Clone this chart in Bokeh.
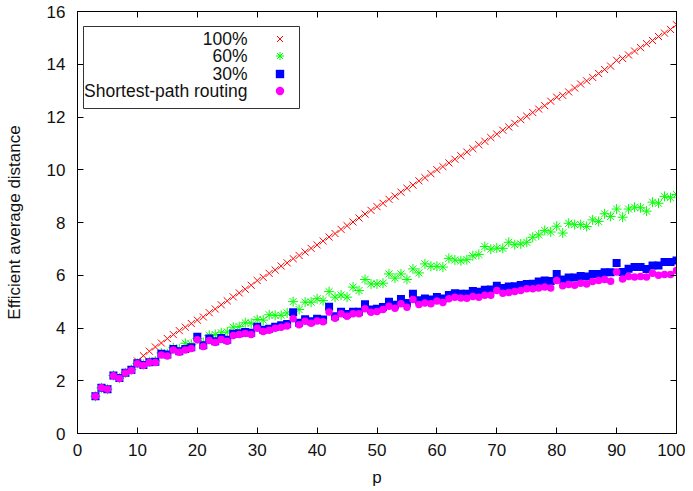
from bokeh.plotting import figure
from bokeh.models import (Range1d, LinearAxis, FixedTicker, CustomJSTickFormatter,
                          Legend, LegendItem, Label, BoxAnnotation, ColumnDataSource)
from bokeh.core.properties import value
from bokeh.embed import file_html
from bokeh.resources import INLINE

# ---------------- data ----------------
p_values = list(range(3, 101))

full_100 = [1.41, 1.73, 1.68, 2.19, 2.09, 2.29, 2.39, 2.75, 2.95, 3.12,
            3.28, 3.43, 3.60, 3.75, 3.90, 4.03, 4.17, 4.30, 4.42, 4.58,
            4.72, 4.88, 5.03, 5.18, 5.33, 5.47, 5.62, 5.80, 5.92, 6.07,
            6.20, 6.35, 6.47, 6.63, 6.75, 6.88, 7.02, 7.15, 7.30, 7.45,
            7.58, 7.74, 7.88, 8.02, 8.17, 8.32, 8.46, 8.60, 8.73, 8.88,
            9.00, 9.15, 9.30, 9.42, 9.58, 9.70, 9.85, 10.00, 10.12, 10.26,
            10.40, 10.53, 10.67, 10.80, 10.95, 11.08, 11.22, 11.35, 11.50, 11.62,
            11.76, 11.90, 12.03, 12.17, 12.30, 12.43, 12.60, 12.75, 12.82, 12.95,
            13.10, 13.25, 13.37, 13.50, 13.65, 13.80, 13.93, 14.15, 14.22, 14.35,
            14.50, 14.63, 14.78, 14.90, 15.05, 15.18, 15.32, 15.50]

pct_60 = [1.41, 1.73, 1.68, 2.20, 2.10, 2.30, 2.42, 2.66, 2.62, 2.72,
          2.75, 3.05, 3.02, 3.25, 3.20, 3.42, 3.38, 3.60, 3.45, 3.72,
          3.75, 3.82, 3.85, 4.03, 4.05, 4.20, 4.18, 4.32, 4.30, 4.50,
          4.48, 4.48, 4.57, 5.00, 4.70, 4.98, 4.98, 5.11, 5.04, 5.38,
          5.17, 5.25, 5.17, 5.55, 5.42, 5.84, 5.67, 5.67, 5.70, 6.05,
          5.89, 6.05, 5.84, 6.24, 6.09, 6.43, 6.34, 6.34, 6.31, 6.64,
          6.58, 6.55, 6.59, 6.74, 6.79, 7.09, 6.99, 7.03, 7.02, 7.25,
          7.16, 7.19, 7.25, 7.44, 7.53, 7.70, 7.64, 7.86, 7.60, 7.97,
          7.92, 7.92, 7.85, 8.10, 8.04, 8.33, 8.23, 8.51, 8.20, 8.51,
          8.58, 8.56, 8.43, 8.77, 8.73, 8.99, 8.94, 9.06]

pct_30 = [1.41, 1.73, 1.68, 2.20, 2.10, 2.30, 2.42, 2.66, 2.60, 2.70,
          2.72, 3.02, 3.00, 3.20, 3.12, 3.20, 3.27, 3.67, 3.35, 3.60,
          3.50, 3.62, 3.55, 3.78, 3.80, 3.85, 3.82, 4.05, 3.93, 3.97,
          4.05, 4.10, 4.15, 4.60, 4.20, 4.33, 4.26, 4.35, 4.32, 4.81,
          4.45, 4.62, 4.53, 4.62, 4.62, 4.90, 4.70, 4.73, 4.80, 5.00,
          4.88, 5.10, 4.95, 5.30, 5.05, 5.12, 5.08, 5.18, 5.12, 5.25,
          5.32, 5.30, 5.30, 5.40, 5.37, 5.45, 5.46, 5.60, 5.52, 5.57,
          5.58, 5.63, 5.67, 5.68, 5.76, 5.80, 5.78, 6.05, 5.84, 5.91,
          5.91, 5.97, 5.95, 6.05, 6.05, 6.11, 6.11, 6.46, 6.12, 6.25,
          6.31, 6.31, 6.24, 6.37, 6.37, 6.50, 6.50, 6.56]

shortest = [1.41, 1.73, 1.68, 2.19, 2.09, 2.29, 2.39, 2.64, 2.58, 2.69,
            2.69, 2.98, 2.94, 3.17, 3.08, 3.17, 3.22, 3.55, 3.30, 3.53,
            3.45, 3.56, 3.50, 3.72, 3.75, 3.79, 3.75, 3.99, 3.87, 3.91,
            3.99, 4.03, 4.08, 4.35, 4.12, 4.26, 4.18, 4.27, 4.24, 4.61,
            4.37, 4.54, 4.45, 4.54, 4.54, 4.73, 4.60, 4.63, 4.70, 4.82,
            4.75, 4.92, 4.79, 5.08, 4.89, 4.95, 4.92, 5.02, 4.97, 5.11,
            5.17, 5.14, 5.13, 5.19, 5.17, 5.24, 5.24, 5.42, 5.32, 5.35,
            5.38, 5.42, 5.49, 5.49, 5.52, 5.55, 5.52, 5.80, 5.60, 5.65,
            5.62, 5.70, 5.67, 5.76, 5.80, 5.84, 5.77, 6.12, 5.86, 5.95,
            5.93, 5.95, 5.93, 6.08, 6.00, 6.03, 6.03, 6.18]

series_labels = ["100%", "60%", "30%", "Shortest-path routing"]
x_ticks = [0, 10, 20, 30, 40, 50, 60, 70, 80, 90, 100]
y_ticks = [0, 2, 4, 6, 8, 10, 12, 14, 16]

# ---------------- figure ----------------
FONT = "Liberation Sans"
FS = "17px"

src = ColumnDataSource(dict(p=p_values, a=full_100, b=pct_60, c=pct_30, d=shortest))

p = figure(frame_width=599, frame_height=422, output_backend="svg", toolbar_location=None,
           x_range=Range1d(0, 100), y_range=Range1d(0, 16),
           min_border_left=77, min_border_right=9, min_border_top=11, min_border_bottom=50,
           background_fill_color="white", border_fill_color="white")
p.xgrid.visible = False
p.ygrid.visible = False
p.outline_line_color = "black"
p.outline_line_width = 1
p.outline_line_alpha = 1

for ax in (p.xaxis[0], p.yaxis[0]):
    ax.major_tick_in = 6
    ax.major_tick_out = 0
    ax.minor_tick_line_color = None
    ax.axis_line_color = "black"
    ax.major_tick_line_color = "black"
    ax.major_label_text_font = FONT
    ax.major_label_text_font_size = FS
    ax.major_label_text_color = "#111111"
    ax.axis_label_text_font = FONT
    ax.axis_label_text_font_size = FS
    ax.axis_label_text_font_style = "normal"
    ax.axis_label_text_color = "#111111"

p.xaxis.ticker = FixedTicker(ticks=x_ticks)
p.yaxis.ticker = FixedTicker(ticks=y_ticks)
p.xaxis.axis_label = "p"
p.yaxis.axis_label = "Efficient average distance"
p.xaxis.major_label_standoff = 10
p.xaxis.axis_label_standoff = 9
p.yaxis.major_label_standoff = 12
p.yaxis.axis_label_standoff = 20

# mirror ticks
top = LinearAxis(ticker=FixedTicker(ticks=x_ticks), formatter=CustomJSTickFormatter(code="return ''"))
right = LinearAxis(ticker=FixedTicker(ticks=y_ticks), formatter=CustomJSTickFormatter(code="return ''"))
for ax in (top, right):
    ax.major_tick_in = 6
    ax.major_tick_out = 0
    ax.minor_tick_line_color = None
    ax.axis_line_color = "black"
    ax.major_label_standoff = 0
    ax.major_label_text_font_size = "1px"
p.add_layout(top, "above")
p.add_layout(right, "right")

# ---------------- data marks ----------------
r1 = p.scatter("p", "a", source=src, marker="x", size=10, line_color="#ff0000", line_width=1)
r2 = p.scatter("p", "b", source=src, marker="asterisk", size=10, line_color="#00ff00", line_width=1)
r3 = p.scatter("p", "c", source=src, marker="square", size=8, fill_color="#0000ff", line_color=None)
r4 = p.scatter("p", "d", source=src, marker="circle", size=7.5, fill_color="#ff00ff", line_color=None)

# ---------------- key (gnuplot style: text right-aligned, symbol at right) ----------------
p.add_layout(BoxAnnotation(left=6, right=222, top=407, bottom=325,
                           left_units="screen", right_units="screen",
                           top_units="screen", bottom_units="screen",
                           fill_alpha=0, line_color="#333333", line_width=1, line_alpha=1))

row_y = [394.7, 377.2, 359.8, 342.4]
for lbl, yy, rr in zip(series_labels, row_y, [r1, r2, r3, r4]):
    p.add_layout(Label(x=170, y=yy, x_units="screen", y_units="screen", text=lbl,
                       text_align="right", text_baseline="middle",
                       text_font=FONT, text_font_size="17.5px", text_color="#111111"))
    lg = Legend(items=[LegendItem(label=value(""), renderers=[rr])],
                location=(191.5, yy - 10.5), padding=0, margin=0, spacing=0,
                glyph_width=21, glyph_height=21, label_height=21, label_width=0,
                label_standoff=0, label_text_font_size="1px",
                border_line_color=None, background_fill_alpha=0)
    p.add_layout(lg, "center")

open("out.html", "w").write(file_html(p, INLINE))
